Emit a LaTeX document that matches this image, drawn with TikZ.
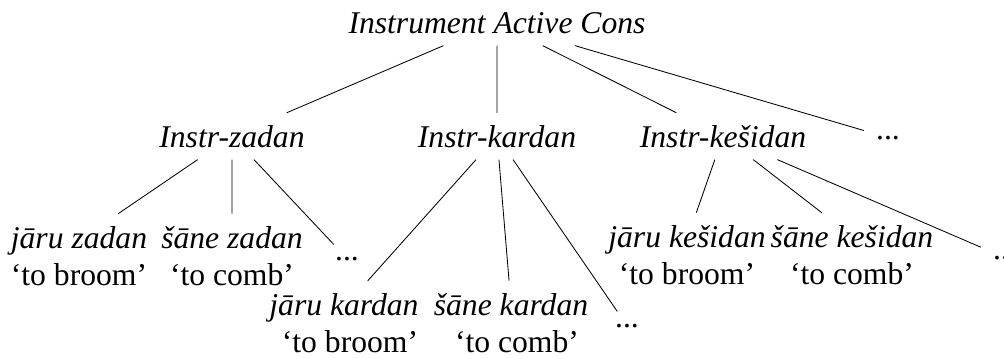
\documentclass[tikz,border=0pt]{standalone}
\usepackage{fontspec}
\setmainfont{Liberation Serif}
\usetikzlibrary{positioning}

\begin{document}
\begin{tikzpicture}[x=.025cm,y=-.025cm,
	every node/.style={inner sep=.3cm,font=\fontsize{22.5}{27}\selectfont},
	word/.style={anchor=base,font=\fontsize{22.5}{27}\selectfont\itshape},
	gloss/.style={below=27pt of #1.base,anchor=base},
	branch/.style={line width=.6pt}]
	\useasboundingbox (0,0) rectangle (1004,358);
	%% top
	\node[word] (root) at (497,33) {Instrument Active Cons};
	\node[word] (iz) at (232,147) {Instr-zadan};
	\node[word] (ik) at (497,147) {Instr-kardan};
	\node[word] (ie) at (723,147) {Instr-kešidan};
	\node[anchor=base] (d1) at (888,139) {...};
	%% zadan
	\node[word] (jz) at (79,248) {jāru zadan};
	\node[word] (sz) at (232,248) {šāne zadan};
	\node[anchor=base] (d2) at (347,260) {...};
	\node[gloss=jz] (gjz) {`to broom'};
	\node[gloss=sz] (gsz) {`to comb'};
	%% kardan
	\node[word] (jk) at (344,315) {jāru kardan};
	\node[word] (sk) at (511,315) {šāne kardan};
	\node[anchor=base] (d3) at (627,327) {...};
	\node[gloss=jk,xshift=.15cm] (gjk) {`to broom'};
	\node[gloss=sk,xshift=.15cm] (gsk) {`to comb'};
	%% kesidan
	\node[word] (je) at (687,247) {jāru kešidan};
	\node[word] (se) at (852,247) {šāne kešidan};
	\node[anchor=base] (d4) at (1005,259) {...};
	\node[gloss=je] (gje) {`to broom'};
	\node[gloss=se] (gse) {`to comb'};
	% branches
	\draw[branch] (root) -- (iz) (root) -- (ik) (root) -- (ie) (root) -- (d1);
	\draw[branch] (iz) -- (jz) (iz) -- (sz) (iz) -- (d2);
	\draw[branch] (ik) -- (jk) (ik) -- (sk) (ik) -- (d3);
	\draw[branch] (ie) -- (je) (ie) -- (se) (ie) -- (d4);
\end{tikzpicture}
\end{document}
